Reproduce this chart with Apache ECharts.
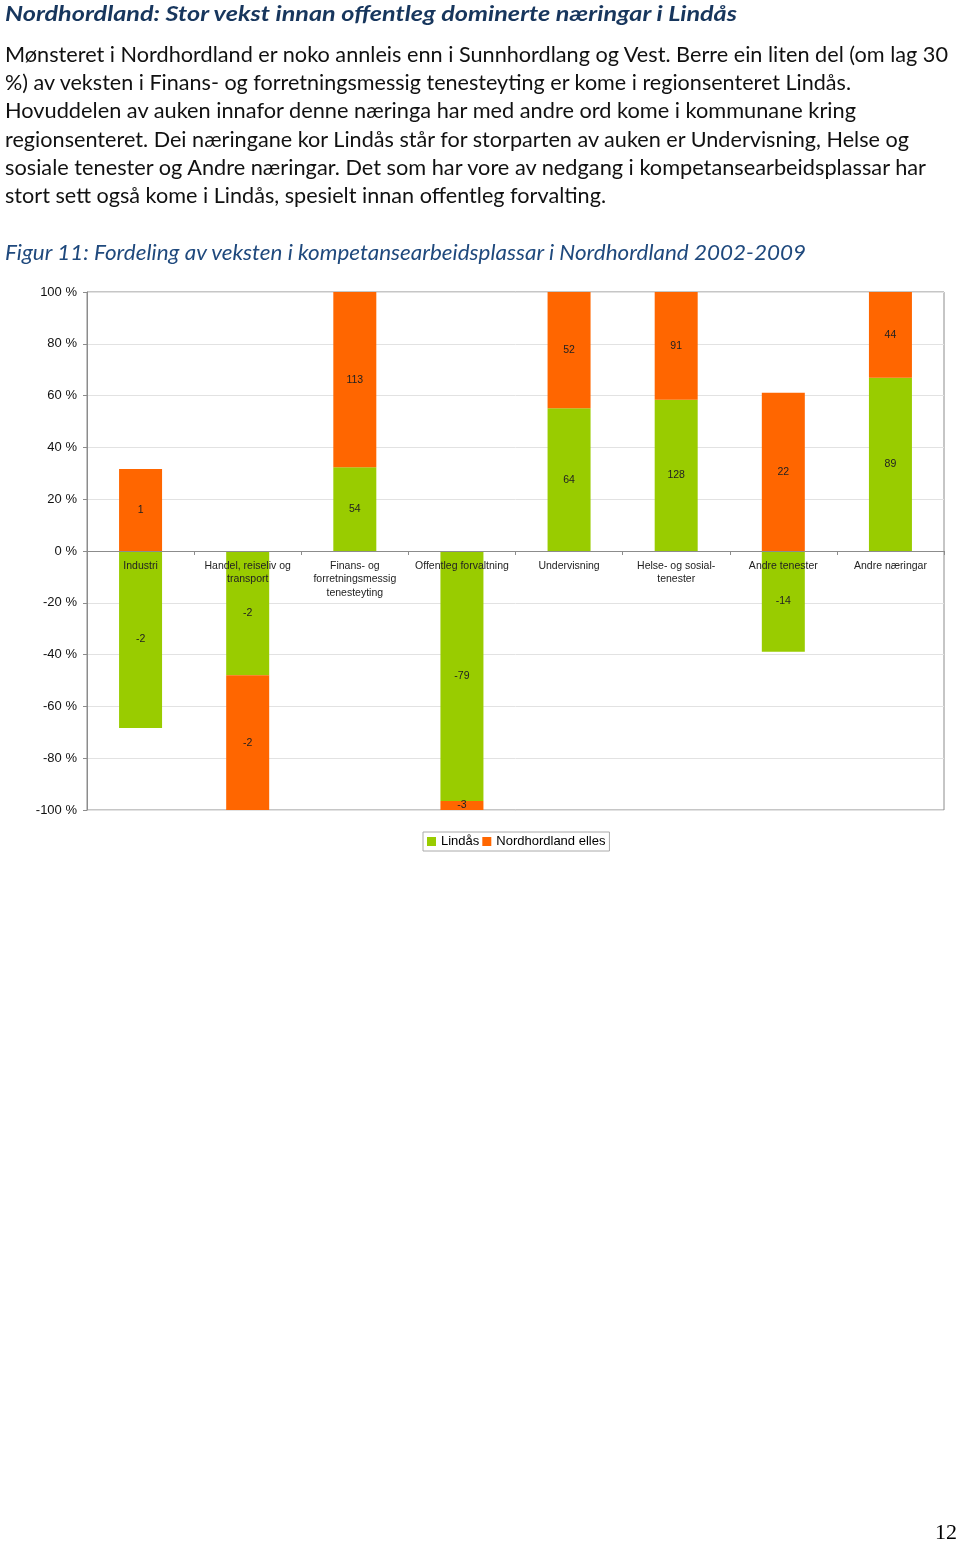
<!DOCTYPE html>
<html>
<head>
<meta charset="utf-8">
<script src="https://cdn.jsdelivr.net/npm/echarts@6/dist/echarts.min.js"></script>
<style>
  html, body { margin: 0; padding: 0; background: #fff; }
  #page { position: relative; width: 960px; height: 1543px; overflow: hidden; }
  #chart { position: absolute; left: 0; top: 0; width: 960px; height: 1543px; z-index: 1; }
  .fit { position: absolute; display: inline-block; white-space: nowrap; transform-origin: 0 0; z-index: 2; font-family: Lato, "Open Sans", sans-serif; }
  .para { font-size: 20.5px; line-height: 28px; color: #111; }
  .head { font-size: 21px; line-height: 28px; font-weight: bold; font-style: italic; color: #17365D; }
  .cap { font-size: 21px; line-height: 28px; font-style: italic; color: #1F497D; }
  #pnum { position: absolute; right: 3px; top: 1519px; font-family: "Liberation Serif", serif; font-size: 22px; color: #000; z-index: 2; }
</style>
</head>
<body>
<div id="page">
  <div id="chart"></div>
  <div class="fit head" style="left:5px; top:-1px" data-w="732">Nordhordland: Stor vekst innan offentleg dominerte næringar i Lindås</div>
  <div class="fit para" style="left:5px; top:40px" data-w="943">Mønsteret i Nordhordland er noko annleis enn i Sunnhordlang og Vest. Berre ein liten del (om lag 30</div>
  <div class="fit para" style="left:5px; top:68px" data-w="846">%) av veksten i Finans- og forretningsmessig tenesteyting er kome i regionsenteret Lindås.</div>
  <div class="fit para" style="left:5px; top:96px" data-w="851">Hovuddelen av auken innafor denne næringa har med andre ord kome i kommunane kring</div>
  <div class="fit para" style="left:5px; top:125px" data-w="904">regionsenteret. Dei næringane kor Lindås står for storparten av auken er Undervisning, Helse og</div>
  <div class="fit para" style="left:5px; top:153px" data-w="921">sosiale tenester og Andre næringar. Det som har vore av nedgang i kompetansearbeidsplassar har</div>
  <div class="fit para" style="left:5px; top:181px" data-w="601">stort sett også kome i Lindås, spesielt innan offentleg forvalting.</div>
  <div class="fit cap" style="left:5px; top:238px" data-w="801">Figur 11: Fordeling av veksten i kompetansearbeidsplassar i Nordhordland 2002-2009</div>
  <div id="pnum">12</div>
</div>
<script>
// ---- data ----
const categories = [
  'Industri',
  'Handel, reiseliv og\ntransport',
  'Finans- og\nforretningsmessig\ntenesteyting',
  'Offentleg forvaltning',
  'Undervisning',
  'Helse- og sosial-\ntenester',
  'Andre tenester',
  'Andre næringar'
];
const seriesNames = ['Lindås', 'Nordhordland elles'];
// growth counts shown as labels
const lindasCount = [-2, -2, 54, -79, 64, 128, -14, 89];
const ellesCount  = [1, -2, 113, -3, 52, 91, 22, 44];
// share of each category's growth (percent)
const lindasShare = [-68.3, -48, 32.3, -96.5, 55.1, 58.4, -38.9, 66.9];
const ellesShare  = [31.7, -52, 67.7, -3.5, 44.9, 41.6, 61.1, 33.1];
const yMin = -100, yMax = 100, yStep = 20;

// ---- fit text lines to measured widths ----
document.querySelectorAll('.fit').forEach(el => {
  const w = el.getBoundingClientRect().width;
  const t = +el.dataset.w;
  if (w > 0) el.style.transform = 'scaleX(' + (t / w) + ')';
});

const green = '#99CC00', orange = '#FF6600', axisGray = '#8c8c8c';
const labelFont = { fontFamily: 'Liberation Sans, Arial, sans-serif', fontSize: 10.5, color: '#222' };

const gridTop = 292, gridHeight = 518;
// move category axis up to the zero line
const zeroOffset = -gridHeight * (0 - yMin) / (yMax - yMin);

const chart = echarts.init(document.getElementById('chart'), null, { renderer: 'canvas' });
chart.setOption({
  animation: false,
  backgroundColor: 'transparent',
  textStyle: { fontFamily: 'Liberation Sans, Arial, sans-serif' },
  grid: { left: 87, top: gridTop, width: 857, height: gridHeight, show: true, borderColor: axisGray, borderWidth: 1, containLabel: false },
  legend: {
    data: seriesNames,
    left: 423, top: 832,
    icon: 'rect', itemWidth: 9, itemHeight: 9, itemGap: 3,
    padding: [3, 4],
    borderColor: '#aaa', borderWidth: 1,
    textStyle: { fontSize: 13, color: '#000', fontFamily: 'Liberation Sans, Arial, sans-serif' }
  },
  xAxis: {
    type: 'category',
    data: categories,
    position: 'bottom',
    offset: zeroOffset,
    z: 5,
    axisLine: { onZero: false, lineStyle: { color: axisGray, width: 1 } },
    axisTick: { show: true, length: 4, lineStyle: { color: axisGray } },
    axisLabel: Object.assign({ interval: 0, margin: 8, lineHeight: 13.5 }, labelFont),
    splitLine: { show: false }
  },
  yAxis: {
    type: 'value',
    min: yMin, max: yMax, interval: yStep,
    axisLine: { show: true, lineStyle: { color: axisGray } },
    axisTick: { show: true, length: 4, lineStyle: { color: axisGray } },
    axisLabel: { formatter: '{value} %', fontSize: 13, color: '#111', margin: 10, fontFamily: 'Liberation Sans, Arial, sans-serif' },
    splitLine: { lineStyle: { color: '#e2e2e2', width: 1 } }
  },
  series: [
    {
      name: seriesNames[0], type: 'bar', stack: 'total', barWidth: 43,
      itemStyle: { color: green },
      data: lindasShare,
      label: Object.assign({ show: true, position: 'inside', formatter: p => String(lindasCount[p.dataIndex]) }, labelFont)
    },
    {
      name: seriesNames[1], type: 'bar', stack: 'total', barWidth: 43,
      itemStyle: { color: orange },
      data: ellesShare,
      label: Object.assign({ show: true, position: 'inside', formatter: p => String(ellesCount[p.dataIndex]) }, labelFont)
    }
  ]
});
</script>
</body>
</html>
